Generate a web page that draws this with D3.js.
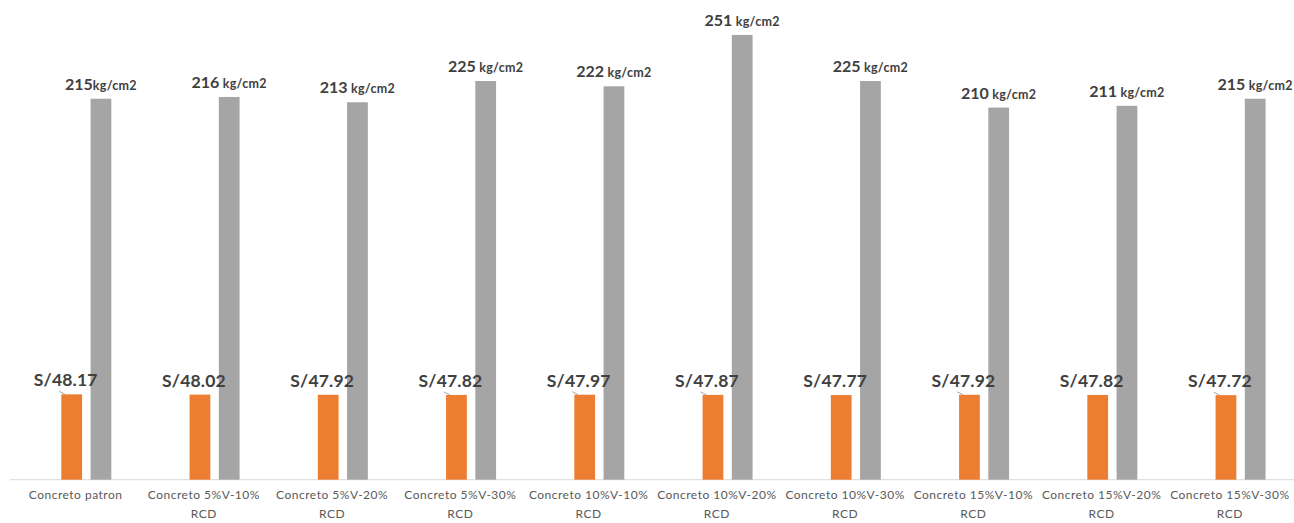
<!DOCTYPE html>
<html><head><meta charset="utf-8">
<script src="https://cdn.jsdelivr.net/npm/d3@7"></script>
<style>html,body{margin:0;padding:0;background:#fff;}svg{display:block;}</style>
</head><body><svg id="c" width="1294" height="523"></svg>
<script>
const categories = ["Concreto patron","Concreto 5%V-10% RCD","Concreto 5%V-20% RCD","Concreto 5%V-30% RCD","Concreto 10%V-10% RCD","Concreto 10%V-20% RCD","Concreto 10%V-30% RCD","Concreto 15%V-10% RCD","Concreto 15%V-20% RCD","Concreto 15%V-30% RCD"];
const costValues = [48.17,48.02,47.92,47.82,47.97,47.87,47.77,47.92,47.82,47.72];
const strengthValues = [215,216,213,225,222,251,225,210,211,215];
const strengthUnitSep = [""," "," "," "," "," "," "," "," "," "];
const costPrefix = "S/";
const strengthUnit = "kg/cm2";
const leaderShown = [true,false,false,true,true,true,false,true,false,true];

const svg = d3.select("#c");
const font = "Lato, 'Open Sans', sans-serif";
const baseY = 479.7;
const y = d3.scaleLinear().domain([0,270]).range([baseY, baseY - 270*1.772]);
const x0 = d3.scaleBand().domain(categories).range([11.5, 1294]).padding(0);
const x1 = d3.scaleBand().domain(["cost","strength"]).range([-14.3, 35.7]).paddingInner(0.29);

svg.append("line").attr("x1",10).attr("x2",1294).attr("y1",baseY).attr("y2",baseY)
  .attr("stroke","#D9D9D9").attr("stroke-width",1);

const g = svg.append("g");
const cx = c => x0(c) + x0.bandwidth()/2;

g.selectAll("rect.cost").data(categories).join("rect").attr("class","cost")
  .attr("x", (c)=>cx(c)+x1("cost")).attr("width", x1.bandwidth())
  .attr("y", (c,i)=>y(costValues[i])).attr("height",(c,i)=>baseY-y(costValues[i]))
  .attr("fill","#ED7D31");
g.selectAll("rect.str").data(categories).join("rect").attr("class","str")
  .attr("x", (c)=>cx(c)+x1("strength")).attr("width", x1.bandwidth())
  .attr("y", (c,i)=>y(strengthValues[i])).attr("height",(c,i)=>baseY-y(strengthValues[i]))
  .attr("fill","#A5A5A5");

categories.forEach((c,i)=>{
  const t = g.append("text").attr("x", cx(c)+x1("strength")+x1.bandwidth()/2)
    .attr("y", y(strengthValues[i]) - 9).attr("text-anchor","middle")
    .attr("font-family",font).attr("fill","#404040").attr("font-weight","bold");
  t.append("tspan").attr("font-size","16px").text(strengthValues[i]);
  t.append("tspan").attr("font-size","12.5px").attr("letter-spacing","0.3px").text(strengthUnitSep[i]+strengthUnit);
});

categories.forEach((c,i)=>{
  const bx = cx(c)+x1("cost");
  const lx = bx + x1.bandwidth()/2 - 6;
  const ly = y(costValues[i]) - 8;
  g.append("text").attr("x", lx).attr("y", ly).attr("text-anchor","middle")
    .attr("font-family",font).attr("font-size","17.5px").attr("font-weight","bold")
    .attr("letter-spacing","0.2px")
    .attr("fill","#404040").text(costPrefix + costValues[i].toFixed(2));
  if (leaderShown[i]) {
    g.append("line").attr("x1", bx-2).attr("y1", ly+5).attr("x2", bx+4).attr("y2", y(costValues[i]))
      .attr("stroke","#A6A6A6").attr("stroke-width",1);
  }
});

categories.forEach(c=>{
  const parts = c.endsWith(" RCD") ? [c.slice(0,-4), "RCD"] : [c];
  const t = g.append("text").attr("x", cx(c)).attr("y", 499).attr("text-anchor","middle")
    .attr("font-family",font).attr("font-size","12px").attr("letter-spacing","0.5px").attr("fill","#595959");
  parts.forEach((p,k)=>t.append("tspan").attr("x",cx(c)).attr("dy", k===0?0:19).text(p));
});
</script></body></html>
